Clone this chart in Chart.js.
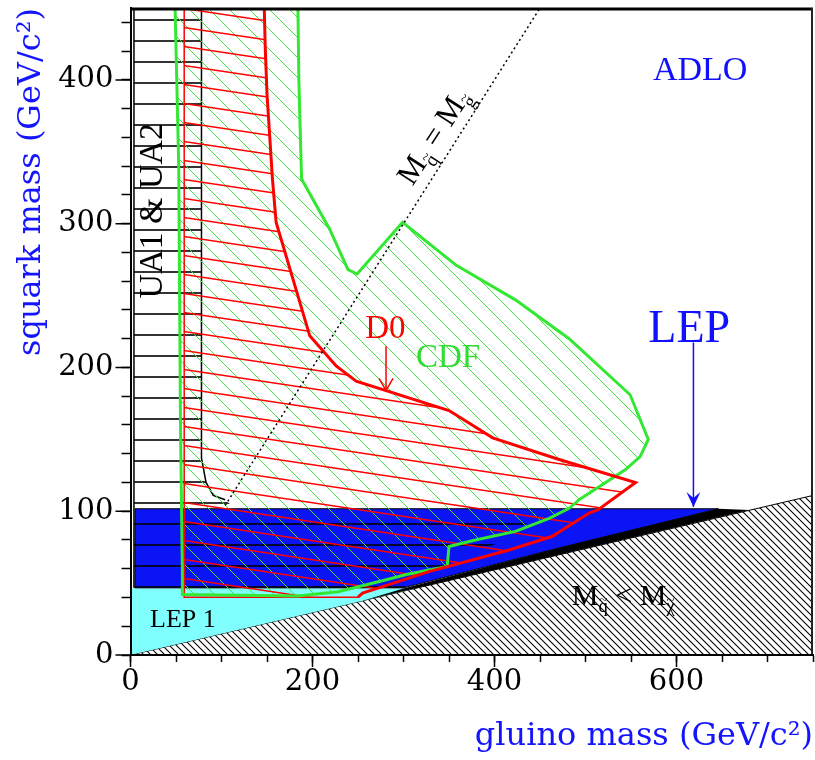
<!DOCTYPE html>
<html>
<head>
<meta charset="utf-8">
<title>Squark vs gluino mass limits</title>
<script src="https://cdn.jsdelivr.net/npm/chart.js@4/dist/chart.umd.min.js"></script>
<style>
  html, body { margin: 0; padding: 0; background: #fff; }
</style>
</head>
<body>
<canvas id="chart" width="815" height="760"></canvas>
<script>
// Tick labels (GeV/c^2)
const xTickLabels = [0, 200, 400, 600];
const yTickLabels = [0, 100, 200, 300, 400];

// Kinematically forbidden wedge, M(squark) < M(chi)
const forbidX = [0, 750, 750];
const forbidY = [0, 111, 0];

// LEP 1 excluded region
const lep1X = [0, 0, 314];
const lep1Y = [0, 46.5, 46.5];

// LEP (ADLO) excluded region and its black edge along the kinematic limit
const lepX = [5, 5, 646, 470, 300, 5];
const lepY = [46.7, 101.7, 101.7, 74.3, 46.7, 46.7];
const lepEdgeX = [255, 680, 646, 470, 300];
const lepEdgeY = [37.8, 100.9, 101.7, 74.3, 46.2];

// UA1 & UA2 excluded region
const uaX = [3.8, 3.8, 78, 78, 83, 91, 104, 115, 455, 412, 350, 300];
const uaY = [46.7, 450, 450, 137, 120, 111, 108, 101.7, 101.7, 80, 64, 46.7];
const uaEdgeX = [78, 78, 83, 91, 104];
const uaEdgeY = [450, 137, 120, 111, 108];
const uaLeftX = [3.8, 3.8];
const uaLeftY = [46.7, 450];

// CDF excluded region
const cdfX = [49, 184, 185, 188, 219, 239, 249, 299, 358, 423, 482, 549, 569, 560, 544, 493, 482, 460, 423, 379, 350, 348, 303, 279, 228, 184, 57, 57, 55, 53, 49];
const cdfY = [450, 450, 400, 331, 296, 268, 265, 301, 271, 247, 220, 181, 150, 138, 129, 108, 102, 95, 86, 80, 75.5, 61.5, 56, 52, 44, 41, 42, 58, 155, 340, 450];

// D0 excluded region (closed) and its thick limit curve
const d0X = [59, 147, 148, 150, 156, 160, 197, 226, 248, 350, 398, 471, 555, 514, 504, 463, 416, 328, 255, 250, 59, 59];
const d0Y = [450, 450, 424, 390, 331, 301, 222, 201, 190.5, 170, 151, 136, 120, 101, 98.7, 82.4, 73, 58, 43, 40.2, 40.2, 450];
const d0LimitX = [147, 148, 150, 156, 160, 197, 226, 248, 350, 398, 471, 555, 514, 504, 463, 416, 328, 255, 250];
const d0LimitY = [450, 424, 390, 331, 301, 222, 201, 190.5, 170, 151, 136, 120, 101, 98.7, 82.4, 73, 58, 43, 40.2];

// M(squark) = M(gluino) diagonal
const equalX = [104, 450];
const equalY = [104, 450];

// Pointer arrows
const lepArrowX = [618.6, 618.6];
const lepArrowY = [217.4, 103];
const d0ArrowX = [280.8, 280.8];
const d0ArrowY = [214.8, 184];

const pts = (xs, ys) => xs.map((x, i) => ({ x: x, y: ys[i] }));

// Hatch patterns
const canvas = document.getElementById('chart');
const mainCtx = canvas.getContext('2d');
function makeHatch(w, h, color, width, segs) {
  const c = document.createElement('canvas');
  c.width = w;
  c.height = h;
  const g = c.getContext('2d');
  g.strokeStyle = color;
  g.lineWidth = width;
  g.beginPath();
  segs.forEach(s => { g.moveTo(s[0], s[1]); g.lineTo(s[2], s[3]); });
  g.stroke();
  return mainCtx.createPattern(c, 'repeat');
}
const diagSegs = n => [[-1, -1, n + 1, n + 1], [-1, n - 1, 1, n + 1], [n - 1, -1, n + 1, 1]];
const forbidHatch = makeHatch(7, 7, '#000', 1.1, diagSegs(7));
const cdfHatch = makeHatch(20, 20, '#3ce63c', 1, diagSegs(20));
const d0Hatch = makeHatch(127, 19, '#ff0000', 1.5, [[0, 0, 127, 19], [0, -19, 127, 0], [0, 19, 127, 38]]);
const uaHatch = makeHatch(8, 21, '#000', 1.6, [[0, 20, 8, 20]]);

const none = 'rgba(0,0,0,0)';
function region(label, xs, ys, opt) {
  return Object.assign({
    label: label,
    data: pts(xs, ys),
    pointRadius: 0,
    pointHoverRadius: 0,
    tension: 0,
    fill: false,
    borderWidth: 0,
    borderColor: none,
    backgroundColor: none
  }, opt);
}

const datasets = [
  region('M squark < M chi', forbidX, forbidY, { fill: 'shape', backgroundColor: forbidHatch, borderColor: '#000', borderWidth: 1, order: 20 }),
  region('LEP 1', lep1X, lep1Y, { fill: 'shape', backgroundColor: '#80ffff', order: 19 }),
  region('LEP', lepX, lepY, { fill: 'shape', backgroundColor: '#0a14f5', borderColor: '#000', borderWidth: 1, order: 18 }),
  region('LEP edge', lepEdgeX, lepEdgeY, { fill: 'shape', backgroundColor: '#000', order: 17 }),
  region('UA1 & UA2', uaX, uaY, { fill: 'shape', backgroundColor: uaHatch, order: 16 }),
  region('UA edge', uaEdgeX, uaEdgeY, { borderColor: '#000', borderWidth: 1.5, order: 15 }),
  region('UA left', uaLeftX, uaLeftY, { borderColor: '#000', borderWidth: 1.5, order: 15 }),
  region('CDF fill', cdfX, cdfY, { fill: 'shape', backgroundColor: cdfHatch, order: 14 }),
  region('D0', d0X, d0Y, { fill: 'shape', backgroundColor: d0Hatch, borderColor: '#ff0000', borderWidth: 1.5, order: 13 }),
  region('CDF', cdfX, cdfY, { borderColor: '#33e833', borderWidth: 3, order: 12 }),
  region('D0 limit', d0LimitX, d0LimitY, { borderColor: '#ff0000', borderWidth: 3, order: 11 }),
  region('M squark = M gluino', equalX, equalY, { borderColor: '#000', borderWidth: 1.5, borderDash: [2, 3], order: 10 }),
  region('LEP arrow', lepArrowX, lepArrowY, { borderColor: '#1010ff', borderWidth: 1.5, order: 9 }),
  region('D0 arrow', d0ArrowX, d0ArrowY, { borderColor: '#ff0000', borderWidth: 1.5, order: 9 })
];

// Text labels placed in data coordinates
const notes = [
  { text: 'ADLO', x: 626, y: 400, color: '#1010ff', size: 34 },
  { text: 'LEP', x: 614, y: 218, color: '#1010ff', size: 46 },
  { text: 'D0', x: 280, y: 220.4, color: '#ff0000', size: 33 },
  { text: 'CDF', x: 349, y: 200.6, color: '#33dd33', size: 33 },
  { text: 'UA1 & UA2', x: 34.5, y: 309, color: '#000', size: 34, rot: -Math.PI / 2 },
  { text: 'LEP 1', x: 21.5, y: 19.7, color: '#000', size: 26, align: 'left' }
];
const massNotes = [
  { parts: [{ t: 'M' }, { t: 'q', sub: true }, { t: ' < ' }, { t: 'M' }, { t: 'χ', sub: true }], x: 485, y: 34.8, size: 30, align: 'left', rot: 0 },
  { parts: [{ t: 'M' }, { t: 'q', sub: true }, { t: ' = ' }, { t: 'M' }, { t: 'g', sub: true }], x: 342, y: 357, size: 31, align: 'center', rot: -57 * Math.PI / 180 }
];

function drawMass(ctx, note, px, py) {
  const size = note.size;
  const subSize = size * 0.62;
  ctx.save();
  ctx.translate(px, py);
  ctx.rotate(note.rot);
  ctx.fillStyle = '#000';
  ctx.textBaseline = 'alphabetic';
  let total = 0;
  const widths = note.parts.map(p => {
    ctx.font = (p.sub ? subSize : size) + 'px "Liberation Serif"';
    const w = ctx.measureText(p.t).width;
    total += w;
    return w;
  });
  let cx = note.align === 'center' ? -total / 2 : 0;
  note.parts.forEach((p, i) => {
    const fs = p.sub ? subSize : size;
    const dy = p.sub ? size * 0.25 : 0;
    ctx.textAlign = 'left';
    ctx.font = fs + 'px "Liberation Serif"';
    ctx.fillText(p.t, cx, dy);
    if (p.sub) {
      ctx.textAlign = 'center';
      ctx.font = (fs * 0.8) + 'px "Liberation Serif"';
      ctx.fillText('~', cx + widths[i] / 2, dy - fs * 0.42);
    }
    cx += widths[i];
  });
  ctx.restore();
}

const decor = {
  id: 'decor',
  afterDatasetsDraw(chart) {
    const ctx = chart.ctx;
    const a = chart.chartArea;
    const xs = chart.scales.x;
    const ys = chart.scales.y;
    ctx.save();
    // frame: thick top, right side
    ctx.strokeStyle = '#000';
    ctx.lineWidth = 3;
    ctx.beginPath();
    ctx.moveTo(a.left, a.top + 1);
    ctx.lineTo(a.right, a.top + 1);
    ctx.stroke();
    ctx.strokeStyle = '#222';
    ctx.lineWidth = 2;
    ctx.beginPath();
    ctx.moveTo(a.right - 1, a.top);
    ctx.lineTo(a.right - 1, a.bottom);
    ctx.stroke();

    // LEP arrowhead (filled)
    let tx = xs.getPixelForValue(lepArrowX[1]);
    let ty = ys.getPixelForValue(lepArrowY[1]);
    ctx.fillStyle = '#1010ff';
    ctx.beginPath();
    ctx.moveTo(tx, ty);
    ctx.lineTo(tx - 7, ty - 15);
    ctx.lineTo(tx, ty - 9);
    ctx.lineTo(tx + 7, ty - 15);
    ctx.closePath();
    ctx.fill();

    // D0 arrowhead (open)
    tx = xs.getPixelForValue(d0ArrowX[1]);
    ty = ys.getPixelForValue(d0ArrowY[1]);
    ctx.strokeStyle = '#ff0000';
    ctx.lineWidth = 1.5;
    ctx.beginPath();
    ctx.moveTo(tx - 7, ty - 12);
    ctx.lineTo(tx, ty);
    ctx.lineTo(tx + 7, ty - 12);
    ctx.stroke();

    // labels
    notes.forEach(n => {
      ctx.save();
      ctx.translate(xs.getPixelForValue(n.x), ys.getPixelForValue(n.y));
      if (n.rot) ctx.rotate(n.rot);
      ctx.fillStyle = n.color;
      ctx.font = n.size + 'px "Liberation Serif"';
      ctx.textAlign = n.align || 'center';
      ctx.textBaseline = 'alphabetic';
      ctx.fillText(n.text, 0, 0);
      ctx.restore();
    });
    massNotes.forEach(n => drawMass(ctx, n, xs.getPixelForValue(n.x), ys.getPixelForValue(n.y)));
    ctx.restore();
  },
  afterDraw(chart) {
    // longer marks for the labelled ticks
    const ctx = chart.ctx;
    const a = chart.chartArea;
    ctx.save();
    ctx.strokeStyle = '#000';
    ctx.lineWidth = 1.5;
    ctx.beginPath();
    xTickLabels.forEach(v => {
      const px = chart.scales.x.getPixelForValue(v);
      ctx.moveTo(px, a.bottom);
      ctx.lineTo(px, a.bottom + 12);
    });
    yTickLabels.forEach(v => {
      const py = chart.scales.y.getPixelForValue(v);
      ctx.moveTo(a.left - 15, py);
      ctx.lineTo(a.left, py);
    });
    ctx.stroke();
    ctx.restore();
  }
};

const tickFont = { family: 'DejaVu Serif', size: 29 };
const titleFont = { family: 'DejaVu Serif', size: 32 };

new Chart(canvas, {
  type: 'line',
  data: { datasets: datasets },
  options: {
    responsive: false,
    animation: false,
    devicePixelRatio: 1,
    layout: { padding: { top: 8, right: 2, left: 0, bottom: 0 } },
    plugins: {
      legend: { display: false },
      tooltip: { enabled: false }
    },
    scales: {
      x: {
        type: 'linear',
        min: 0,
        max: 750,
        ticks: {
          stepSize: 50,
          autoSkip: false,
          maxRotation: 0,
          includeBounds: false,
          padding: 3,
          color: '#000',
          font: tickFont,
          callback: v => xTickLabels.includes(v) ? String(v) : ''
        },
        grid: { drawOnChartArea: false, drawTicks: true, tickLength: 7, tickColor: '#000', tickWidth: 1.5 },
        border: { display: true, color: '#000', width: 2, z: 1 },
        title: {
          display: true,
          text: 'gluino mass (GeV/c²)',
          align: 'end',
          color: '#1414ff',
          font: titleFont,
          padding: { top: 0, bottom: 4 }
        },
        afterFit: s => { s.height = 105; s.paddingLeft = 0; s.paddingRight = 0; }
      },
      y: {
        type: 'linear',
        min: 0,
        max: 450,
        ticks: {
          stepSize: 20,
          autoSkip: false,
          includeBounds: false,
          padding: 8,
          color: '#000',
          font: tickFont,
          callback: v => yTickLabels.includes(v) ? String(v) : ''
        },
        grid: { drawOnChartArea: false, drawTicks: true, tickLength: 9, tickColor: '#000', tickWidth: 1.5 },
        border: { display: true, color: '#000', width: 2, z: 1 },
        title: {
          display: true,
          text: 'squark mass (GeV/c²)',
          align: 'end',
          color: '#1414ff',
          font: titleFont,
          padding: { top: 12, bottom: 0 }
        },
        afterFit: s => { s.width = 130.5; s.paddingTop = 0; s.paddingBottom = 0; }
      }
    }
  },
  plugins: [decor]
});
</script>
</body>
</html>
